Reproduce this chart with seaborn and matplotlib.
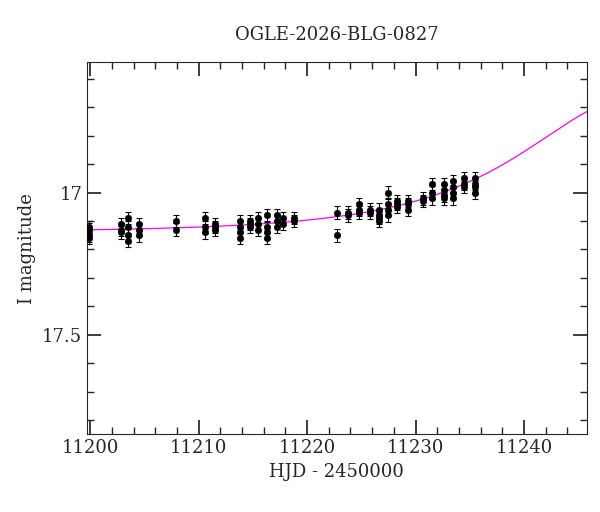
import numpy as np
import matplotlib
matplotlib.use("Agg")
import matplotlib.pyplot as plt
from matplotlib.ticker import MultipleLocator
import seaborn as sns
import pandas as pd

sns.set_theme(style="ticks")
plt.rcParams['font.family'] = ['DejaVu Serif']

# observations: (HJD-2450000, I mag)
hjd = [11199.9]*4 + [11202.8]*3 + [11203.5]*4 + [11204.5]*3 + [11207.9]*2 + [11210.6]*3 + [11211.5]*3 \
    + [11213.8]*4 + [11214.7]*3 + [11215.5]*3 + [11216.3]*4 + [11217.2]*3 + [11217.8]*2 + [11218.8]*2 \
    + [11222.8]*2 + [11223.8]*2 + [11224.8]*3 + [11225.8]*2 + [11226.6]*4 + [11227.5]*4 + [11228.3]*3 \
    + [11229.3]*3 + [11230.7]*2 + [11231.5]*3 + [11232.6]*4 + [11233.5]*4 + [11234.5]*3 + [11235.5]*4
mag = [17.12, 17.15, 17.16, 17.13,
       17.11, 17.13, 17.14,
       17.09, 17.15, 17.17, 17.12,
       17.11, 17.15, 17.13,
       17.10, 17.13,
       17.09, 17.12, 17.14,
       17.11, 17.13, 17.12,
       17.12, 17.14, 17.16, 17.10,
       17.10, 17.12, 17.11,
       17.09, 17.11, 17.13,
       17.08, 17.12, 17.14, 17.16,
       17.08, 17.10, 17.12,
       17.09, 17.11,
       17.10, 17.09,
       17.07, 17.15,
       17.07, 17.08,
       17.04, 17.06, 17.07,
       17.06, 17.07,
       17.06, 17.08, 17.10, 17.09,
       17.00, 17.04, 17.06, 17.08,
       17.03, 17.04, 17.05,
       17.04, 17.03, 17.06,
       17.02, 17.03,
       16.97, 17.00, 17.02,
       16.97, 16.99, 17.01, 17.02,
       16.96, 16.98, 17.00, 17.02,
       16.95, 16.97, 16.98,
       16.95, 16.97, 16.98, 17.00]
err = 0.022

# model parameters (Paczynski)
t0, tE, u0, I0 = 11250.0, 14.0, 0.79, 17.14

df = pd.DataFrame({"t": hjd, "m": mag})
tt = np.linspace(11199.5, 11246, 400)
u = np.sqrt(u0**2 + ((tt - t0) / tE)**2)
A = (u**2 + 2) / (u * np.sqrt(u**2 + 4))
mm = I0 - 2.5 * np.log10(A)

fig = plt.figure(figsize=(6, 5.12), dpi=100)
ax = fig.add_axes([0.145, 0.152, 0.833, 0.727])
sns.lineplot(x=tt, y=mm, color="magenta", lw=0.9, ax=ax)
ax.errorbar(df.t, df.m, yerr=err, fmt="none", ecolor="black", elinewidth=0.8, capsize=2.5, capthick=0.8)
sns.scatterplot(data=df, x="t", y="m", color="black", s=22, edgecolor="black", ax=ax, zorder=3)

ax.set_xlim(11199.7, 11245.8)
ax.set_ylim(17.85, 16.54)
ax.xaxis.set_major_locator(MultipleLocator(10))
ax.xaxis.set_minor_locator(MultipleLocator(2))
ax.yaxis.set_minor_locator(MultipleLocator(0.1))
ax.set_yticks([17, 17.5])
ax.set_yticklabels(["17", "17.5"])
ax.tick_params(which="both", direction="in", top=True, right=True, labelsize=13)
ax.tick_params(which="major", length=10)
ax.tick_params(which="minor", length=5)
for s in ax.spines.values():
    s.set_linewidth(0.8)
ax.set_xlabel("HJD - 2450000", fontsize=13)
ax.set_ylabel("I magnitude", fontsize=13)
ax.set_title("OGLE-2026-BLG-0827", fontsize=13, pad=16)
fig.savefig("out.png", dpi=100)
